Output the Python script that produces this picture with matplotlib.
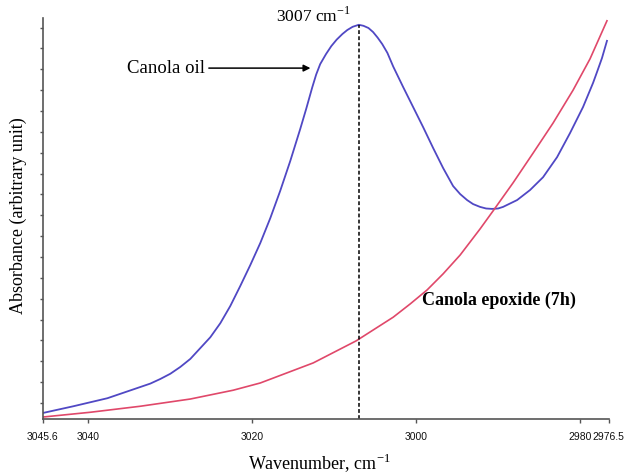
import numpy as np
import matplotlib.pyplot as plt

plt.rcParams['mathtext.fontset'] = 'custom'
plt.rcParams['mathtext.rm'] = 'Liberation Serif'

# FTIR spectra, cis C=C-H stretch region (arbitrary absorbance units)
wn_oil = [3045.6, 3041.83, 3037.68, 3033.66, 3032.44, 3031.22, 3030.00, 3028.78,
          3027.56, 3026.34, 3025.12, 3023.90, 3022.68, 3021.46, 3020.24, 3019.02,
          3017.80, 3016.59, 3015.37, 3014.15, 3013.41, 3012.68, 3012.20, 3011.71,
          3011.00, 3010.35, 3009.70, 3009.00, 3008.40, 3007.75, 3007.0, 3006.43,
          3005.82, 3005.26, 3004.70, 3004.14, 3003.51, 3002.80, 3001.59, 3000.37,
          2999.15, 2997.93, 2996.71, 2995.49, 2994.63, 2993.78, 2993.05, 2992.20,
          2991.46, 2990.73, 2990.00, 2989.39, 2987.68, 2986.10, 2984.51, 2982.80,
          2981.22, 2979.63, 2978.41, 2977.93, 2977.32, 2976.71]
abs_oil = [1.5, 3.2, 5.2, 8.0, 8.85, 10.0, 11.3, 13.0,
           15.0, 17.7, 20.4, 23.9, 28.2, 33.2, 38.4, 43.9,
           50.1, 56.9, 64.3, 72.3, 77.4, 82.7, 85.9, 88.5,
           91.0, 93.0, 94.6, 96.0, 97.0, 97.8, 98.3, 98.05,
           97.5, 96.5, 95.1, 93.5, 91.3, 87.9, 82.8, 77.8,
           72.8, 67.6, 62.6, 58.1, 56.1, 54.6, 53.6, 52.9,
           52.5, 52.4, 52.5, 52.9, 54.6, 57.1, 60.3, 65.3,
           71.3, 77.8, 83.8, 86.5, 90.0, 94.3]

wn_epox = [3045.6, 3039.76, 3033.66, 3027.56, 3022.32, 3019.02, 3012.56, 3007.32,
           3002.80, 3000.73, 2998.66, 2996.71, 2994.63, 2992.20, 2990.61, 2988.17,
           2985.73, 2983.29, 2980.85, 2978.78, 2976.71]
abs_epox = [0.5, 1.7, 3.2, 5.0, 7.2, 9.0, 14.0, 19.5,
            25.4, 28.7, 32.2, 36.2, 40.9, 47.4, 51.9, 58.9,
            66.3, 73.8, 82.0, 89.8, 99.3]

peak_wn = 3007
xticks = [3045.6, 3040, 3020, 3000, 2980, 2976.5]
xticklabels = ['3045.6', '3040', '3020', '3000', '2980', '2976.5']

serif = ['Liberation Serif', 'DejaVu Serif']

fig = plt.figure(figsize=(6.27, 4.73), dpi=100)
ax = fig.add_axes([0.0678, 0.114, 0.9030, 0.848])

ax.plot(wn_oil, abs_oil, color='#5048c4', linewidth=1.3)
ax.plot(wn_epox, abs_epox, color='#e0486a', linewidth=1.2)

# peak marker
ax.plot([peak_wn, peak_wn], [0, max(abs_oil)], color='black', linestyle=(0, (2.5, 1.5)),
        linewidth=1.1)
ax.text(3012.6, 100.6, '3007 cm$^{-1}$', ha='center', va='center',
        fontsize=12.5, family=serif, clip_on=False)

ax.annotate('', xy=(3012.9, 87.5), xytext=(3025.3, 87.5),
            arrowprops=dict(arrowstyle='-|>', color='black', lw=1.1,
                            mutation_scale=10, shrinkA=0, shrinkB=0))
ax.text(3025.8, 87.5, 'Canola oil', ha='right', va='center',
        fontsize=13.5, family=serif)
ax.text(2999.3, 29.7, 'Canola epoxide (7h)', ha='left', va='center',
        fontsize=13, family=serif, fontweight='bold')

ax.set_xlim(3045.6, 2976.5)
ax.set_ylim(0, 100)
ax.set_xticks(xticks)
ax.set_xticklabels(xticklabels, fontsize=7.5, color='#111111',
                   family=['Liberation Sans', 'DejaVu Sans'])
ax.set_yticks(np.arange(4, 100, 5.2))
ax.set_yticklabels([])

ax.tick_params(axis='x', direction='out', length=3, width=1, color='#555555', pad=6)
ax.tick_params(axis='y', direction='out', length=2.5, width=1, color='#555555')

for side in ('top', 'right'):
    ax.spines[side].set_visible(False)
for side in ('left', 'bottom'):
    ax.spines[side].set_color('#555555')
    ax.spines[side].set_linewidth(1.2)

fig.text(0.029, 0.545, 'Absorbance (arbitrary unit)', rotation=90, ha='center',
         va='center', fontsize=13, family=serif)
fig.text(0.51, 0.022, 'Wavenumber, cm$^{-1}$', ha='center', va='center',
         fontsize=13, family=serif)

fig.savefig('out.png', dpi=100)
